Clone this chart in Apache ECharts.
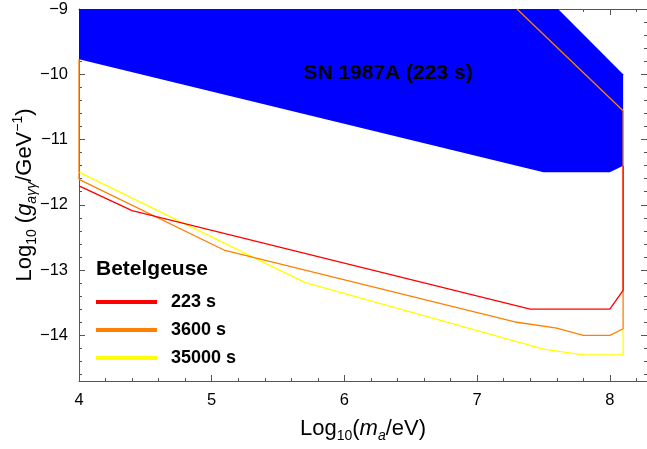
<!DOCTYPE html>
<html>
<head>
<meta charset="utf-8">
<script src="https://cdn.jsdelivr.net/npm/echarts@6/dist/echarts.min.js"></script>
<style>
  html, body { margin: 0; padding: 0; background: #fff; }
  #chart { width: 647px; height: 449px; }
</style>
</head>
<body>
<div id="chart"></div>
<script>
var xMajor = [4, 5, 6, 7, 8];
var yMajor = [-9, -10, -11, -12, -13, -14];
var xMinor = [4, 4.2, 4.4, 4.6, 4.8, 5, 5.2, 5.4, 5.6, 5.8, 6, 6.2, 6.4, 6.6, 6.8, 7, 7.2, 7.4, 7.6, 7.8, 8, 8.2];
var yMinor = [-9, -9.2, -9.4, -9.6, -9.8, -10, -10.2, -10.4, -10.6, -10.8, -11, -11.2, -11.4, -11.6, -11.8,
              -12, -12.2, -12.4, -12.6, -12.8, -13, -13.2, -13.4, -13.6, -13.8, -14, -14.2, -14.4, -14.6];

// SN 1987A exclusion region (polygon)
var snX = [4, 4, 7.5, 8.0, 8.1, 8.1, 7.61];
var snY = [-9, -9.77, -11.5, -11.5, -11.4, -10.0, -9];

// Betelgeuse sensitivity curves
var redX = [4, 4.4, 7.4, 8.0, 8.1, 8.1];
var redY = [-11.71, -12.09, -13.6, -13.6, -13.31, -11.4];
var orangeX = [4, 4, 5.1, 7.3, 7.6, 7.8, 8.0, 8.1, 8.1, 7.3];
var orangeY = [-9.77, -11.61, -12.7, -13.8, -13.89, -14.0, -14.0, -13.9, -10.56, -9];
var yellowX = [4, 5.7, 7.5, 7.8, 8.1, 8.1];
var yellowY = [-11.5, -13.19, -14.21, -14.3, -14.3, -13.9];

var names = ['223 s', '3600 s', '35000 s'];
var colors = ['#ff0000', '#ff8000', '#ffff00'];

var font = 'Liberation Sans, Arial, sans-serif';
var axisColor = '#555';
var xMin = 4, xMax = 8.28, yMin = -14.7, yMax = -9;

function pairs(xs, ys) {
    return xs.map(function (x, i) { return [x, ys[i]]; });
}

var nameRich = {
    n: { fontSize: 22, fontFamily: font, color: '#000', lineHeight: 28 },
    i: { fontSize: 22, fontFamily: font, color: '#000', fontStyle: 'italic', lineHeight: 28 },
    s: { fontSize: 14, fontFamily: font, color: '#000', verticalAlign: 'bottom', lineHeight: 14 },
    si: { fontSize: 14, fontFamily: font, color: '#000', fontStyle: 'italic', verticalAlign: 'bottom', lineHeight: 14 },
    p: { fontSize: 14, fontFamily: font, color: '#000', verticalAlign: 'top', lineHeight: 14 }
};

function tickAxis(pos, ticks, len, withLine) {
    return {
        type: 'value', position: pos, min: pos === 'top' || pos === 'bottom' ? xMin : yMin,
        max: pos === 'top' || pos === 'bottom' ? xMax : yMax,
        axisLine: { show: withLine, lineStyle: { color: axisColor, width: 1 } },
        axisTick: { show: true, inside: true, length: len, customValues: ticks, lineStyle: { color: axisColor } },
        axisLabel: { show: false },
        splitLine: { show: false }
    };
}

var xBottom = tickAxis('bottom', xMajor, 6, true);
xBottom.axisLabel = {
    show: true, customValues: xMajor, fontSize: 16.5, fontFamily: font, color: '#000', margin: 11
};
xBottom.name = '{n|Log}{s|10}{n|(}{i|m}{si|a}{n|/eV)}';
xBottom.nameLocation = 'middle';
xBottom.nameGap = 34;
xBottom.nameMoveOverlap = false;
xBottom.nameTextStyle = { rich: nameRich };

var yLeft = tickAxis('left', yMajor, 6, true);
yLeft.axisLabel = {
    show: true, customValues: yMajor, fontSize: 16.5, fontFamily: font, color: '#000', margin: 11,
    formatter: function (v) { return (v < 0 ? '\u2212' : '') + Math.abs(v); }
};
yLeft.name = '{n|Log}{s|10}{n| (}{i|g}{si|a\u03b3\u03b3}{n|/GeV}{p|\u22121}{n|)}';
yLeft.nameLocation = 'middle';
yLeft.nameGap = 40;
yLeft.nameMoveOverlap = false;
yLeft.nameTextStyle = { rich: nameRich };

var option = {
    animation: false,
    backgroundColor: '#fff',
    grid: { left: 79, right: 0, top: 9, bottom: 68, outerBoundsMode: 'none', containLabel: false },
    xAxis: [
        xBottom,
        tickAxis('bottom', xMinor, 3, false),
        tickAxis('top', xMajor, 6, true),
        tickAxis('top', xMinor, 3, false)
    ],
    yAxis: [
        yLeft,
        tickAxis('left', yMinor, 3, false),
        tickAxis('right', yMajor, 6, true),
        tickAxis('right', yMinor, 3, false)
    ],
    legend: {
        data: names,
        orient: 'vertical',
        left: 96, top: 292,
        padding: 0,
        icon: 'rect',
        itemWidth: 61, itemHeight: 4,
        itemGap: 8,
        selectedMode: false,
        textStyle: { fontSize: 18, fontWeight: 'bold', fontFamily: font, color: '#000', lineHeight: 20, padding: [0, 0, 0, 9] }
    },
    graphic: [
        { type: 'text', left: 96, top: 259, style: { text: 'Betelgeuse', fontSize: 21, fontWeight: 'bold', fontFamily: font, fill: '#000' } },
        { type: 'text', x: 388, y: 73, style: { text: 'SN 1987A (223 s)', fontSize: 21, fontWeight: 'bold', fontFamily: font, fill: '#000', align: 'center', verticalAlign: 'middle' }, z: 100 }
    ],
    series: [
        {
            type: 'custom', silent: true, clip: true, z: 1,
            data: [[snX[0], snY[0]]],
            renderItem: function (params, api) {
                var pts = snX.map(function (x, i) { return api.coord([x, snY[i]]); });
                return { type: 'polygon', shape: { points: pts }, style: { fill: '#0000ff' } };
            }
        },
        { name: names[2], type: 'line', z: 2, data: pairs(yellowX, yellowY), showSymbol: false, color: colors[2], itemStyle: { color: colors[2] }, lineStyle: { color: colors[2], width: 1.3 } },
        { name: names[1], type: 'line', z: 3, data: pairs(orangeX, orangeY), showSymbol: false, color: colors[1], itemStyle: { color: colors[1] }, lineStyle: { color: colors[1], width: 1.3 } },
        { name: names[0], type: 'line', z: 4, data: pairs(redX, redY), showSymbol: false, color: colors[0], itemStyle: { color: colors[0] }, lineStyle: { color: colors[0], width: 1.3 } }
    ]
};

var chart = echarts.init(document.getElementById('chart'));
chart.setOption(option);
window.addEventListener('resize', function () {
    chart.resize();
});
</script>
</body>
</html>
